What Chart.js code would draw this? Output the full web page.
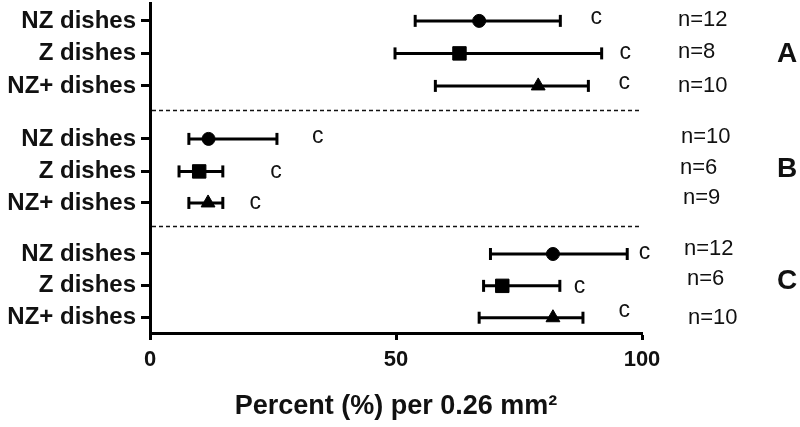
<!DOCTYPE html>
<html>
<head>
<meta charset="utf-8">
<script src="https://cdn.jsdelivr.net/npm/chart.js@4/dist/chart.umd.min.js"></script>
<style>
  html, body { margin: 0; padding: 0; background: #fff; }
  #wrap { width: 800px; height: 427px; }
</style>
</head>
<body>
<div id="wrap"><canvas id="myChart" width="800" height="427"></canvas></div>
<script>
var ctx = document.getElementById("myChart").getContext("2d");

// rows, top to bottom (three groups of three dish types)
const rowLabels = [
  "NZ dishes", "Z dishes", "NZ+ dishes",
  "NZ dishes", "Z dishes", "NZ+ dishes",
  "NZ dishes", "Z dishes", "NZ+ dishes"
];
// category positions on the vertical axis (gap between groups)
const rowPos = [1, 2, 3, 4.63, 5.63, 6.6, 8.17, 9.15, 10.13];
const separators = [3.74, 7.3];

const groupLabels = ["A", "B", "C"];

// mean and error range, percent per 0.26 mm2
const means = [66.9, 62.9, 78.9, 11.9, 10.0, 11.8, 81.9, 71.6, 81.9];
const lower = [53.9, 49.8, 58.0, 7.9, 5.9, 7.9, 69.2, 67.8, 66.9];
const upper = [83.4, 91.8, 89.1, 25.8, 14.8, 14.8, 97.0, 83.3, 88.0];

const sigLetters = ["c", "c", "c", "c", "c", "c", "c", "c", "c"];
const nLabels = ["n=12", "n=8", "n=10", "n=10", "n=6", "n=9", "n=12", "n=6", "n=10"];

const xTicks = [0, 50, 100];

// where the little annotations sit (layout only)
const cX = [90.7, 96.6, 96.4, 34.1, 25.6, 21.4, 100.5, 87.3, 96.4];
const cDy = [-1, 1, -1, 0, 2, 2, 1, 3, -5];
const nDx = [36, 36, 36, 39, 38, 41, 42, 45, 46];
const nDy = [-1, -1, 0, -2, -3, -5, -5, -7, 0];
const groupDy = [1, -2, -5];
const markerStyles = ["circle", "rect", "triangle"];
const markerSizes = { circle: 6.5, rect: 9.5, triangle: 8 };

const FONT = "'Liberation Sans', Arial, sans-serif";

const datasets = [];

// one marker dataset per dish type
markerStyles.forEach(function (style, k) {
  const pts = [];
  for (let i = k; i < means.length; i += 3) {
    pts.push({ x: means[i], y: rowPos[i] });
  }
  datasets.push({
    data: pts,
    pointStyle: style,
    pointRadius: markerSizes[style],
    pointHoverRadius: markerSizes[style],
    backgroundColor: "#000",
    borderColor: "#000",
    borderWidth: 1,
    showLine: false,
    order: 0
  });
});

// error bars, capped with rotated line points
for (let i = 0; i < means.length; i++) {
  datasets.push({
    data: [{ x: lower[i], y: rowPos[i] }, { x: upper[i], y: rowPos[i] }],
    showLine: true,
    borderColor: "#000",
    borderWidth: 3,
    pointStyle: "line",
    rotation: 90,
    pointRadius: 6,
    pointHoverRadius: 6,
    pointBorderWidth: 3,
    pointBorderColor: "#000",
    order: 1
  });
}

const annotations = {
  id: "annotations",
  afterDraw: function (chart) {
    const c = chart.ctx;
    const x = chart.scales.x;
    const y = chart.scales.y;
    const area = chart.chartArea;
    c.save();

    // dashed group separators
    c.setLineDash([4, 3]);
    c.lineWidth = 1.3;
    c.strokeStyle = "#111";
    separators.forEach(function (v) {
      const py = Math.round(y.getPixelForValue(v)) + 0.5;
      c.beginPath();
      c.moveTo(area.left + 2, py);
      c.lineTo(area.right, py);
      c.stroke();
    });
    c.setLineDash([]);

    c.fillStyle = "#111";
    c.textBaseline = "middle";

    // significance letters
    c.font = "23px " + FONT;
    c.textAlign = "center";
    for (let i = 0; i < sigLetters.length; i++) {
      c.fillText(sigLetters[i], x.getPixelForValue(cX[i]), y.getPixelForValue(rowPos[i]) + cDy[i] - 2);
    }

    // sample sizes
    c.font = "22px " + FONT;
    c.textAlign = "left";
    for (let i = 0; i < nLabels.length; i++) {
      c.fillText(nLabels[i], area.right + nDx[i], y.getPixelForValue(rowPos[i]) + nDy[i]);
    }

    // group letters
    c.font = "bold 28px " + FONT;
    c.textAlign = "center";
    groupLabels.forEach(function (g, k) {
      c.fillText(g, area.right + 145, y.getPixelForValue(rowPos[k * 3 + 1]) + groupDy[k]);
    });
    c.restore();
  }
};

var chart = new Chart(ctx, {
  type: "scatter",
  data: { datasets: datasets },
  options: {
    responsive: false,
    animation: false,
    events: [],
    layout: { autoPadding: false, padding: { top: 3, right: 158, bottom: 0, left: 0 } },
    plugins: {
      legend: { display: false },
      tooltip: { enabled: false }
    },
    scales: {
      x: {
        type: "linear",
        min: 0,
        max: 100,
        afterBuildTicks: function (scale) {
          scale.ticks = xTicks.map(function (v) { return { value: v }; });
        },
        afterFit: function (scale) {
          scale.height = 94;
          scale.paddingLeft = 0;
          scale.paddingRight = 0;
        },
        grid: {
          drawOnChartArea: false,
          drawTicks: true,
          tickLength: 7,
          tickWidth: 3,
          tickColor: "#000"
        },
        border: { display: true, color: "#000", width: 3 },
        ticks: {
          color: "#111",
          padding: 7,
          maxRotation: 0,
          font: { family: FONT, size: 22, weight: "bold" }
        },
        title: {
          display: true,
          text: "Percent (%) per 0.26 mm\u00B2",
          color: "#111",
          font: { family: FONT, size: 27, weight: "bold" },
          padding: { top: 0, bottom: 4 }
        }
      },
      y: {
        type: "linear",
        reverse: true,
        min: 0.45,
        max: 10.6,
        afterBuildTicks: function (scale) {
          scale.ticks = rowPos.map(function (v) { return { value: v }; });
        },
        afterFit: function (scale) {
          scale.width = 150;
          scale.paddingTop = 0;
          scale.paddingBottom = 0;
        },
        grid: {
          drawOnChartArea: false,
          drawTicks: true,
          tickLength: 9,
          tickWidth: 3,
          tickColor: "#000"
        },
        border: { display: true, color: "#000", width: 3 },
        ticks: {
          color: "#111",
          padding: 5,
          font: { family: FONT, size: 24, weight: "bold" },
          callback: function (value, index) { return rowLabels[index]; }
        }
      }
    }
  },
  plugins: [annotations]
});
</script>
</body>
</html>
